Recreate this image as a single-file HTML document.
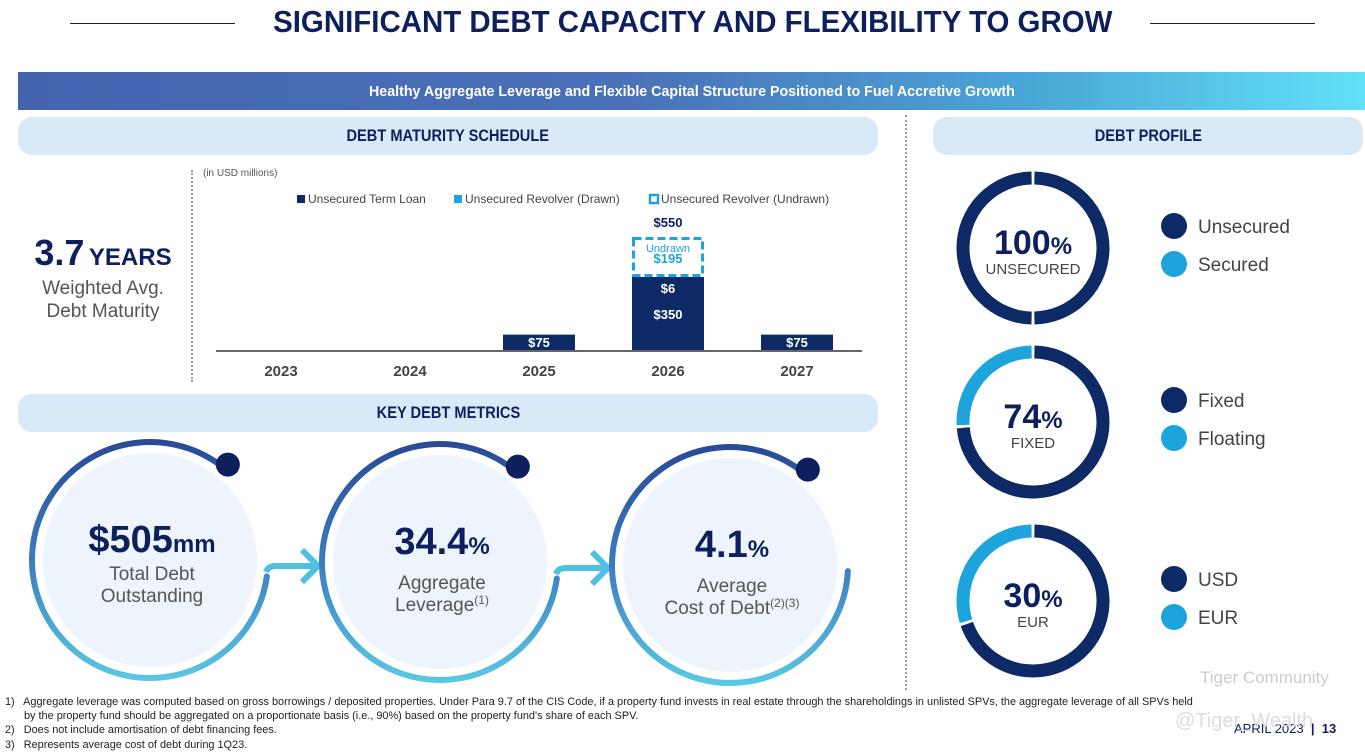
<!DOCTYPE html>
<html><head><meta charset="utf-8"><style>
body{margin:0;width:1365px;height:753px;background:#fff;position:relative;overflow:hidden;font-family:"Liberation Sans",sans-serif;}
.abs{position:absolute;}
.pill{position:absolute;background:#d8e9f7;border-radius:14px;color:#0d1f5c;font-weight:bold;font-size:17px;text-align:center;}
.cond{display:inline-block;transform:scaleX(.86);transform-origin:center;white-space:nowrap;}
.fn{position:absolute;left:5px;font-size:10.9px;color:#222;white-space:nowrap;}
</style></head><body>
<div class="abs" style="left:70px;top:23px;width:165px;height:1px;background:#222"></div>
<div class="abs" style="left:1150px;top:23px;width:165px;height:1px;background:#222"></div>
<div class="abs" style="left:235px;width:915px;top:4px;text-align:center;font-size:31px;font-weight:bold;color:#0d1f5c"><span class="cond" style="transform:scaleX(.95)">SIGNIFICANT DEBT CAPACITY AND FLEXIBILITY TO GROW</span></div>
<div class="abs" style="left:18px;top:72px;width:1347px;height:38px;background:linear-gradient(90deg,#4464b0 0%,#4a70b8 45%,#4aa6d6 75%,#62e0f8 100%);color:#fff;font-weight:bold;font-size:15px;text-align:center;line-height:40px"><span class="cond" style="transform:scaleX(.95)">Healthy Aggregate Leverage and Flexible Capital Structure Positioned to Fuel Accretive Growth</span></div>
<div class="pill" style="left:18px;top:117px;width:860px;height:38px;line-height:38px"><span class="cond">DEBT MATURITY SCHEDULE</span></div>
<div class="pill" style="left:933px;top:117px;width:430px;height:38px;line-height:38px"><span class="cond">DEBT PROFILE</span></div>
<div class="pill" style="left:18px;top:394px;width:860px;height:38px;line-height:38px"><span class="cond">KEY DEBT METRICS</span></div>
<div class="abs" style="left:905px;top:115px;height:575px;border-left:2px dotted #999"></div>
<div class="abs" style="left:191px;top:170px;height:212px;border-left:2px dotted #999"></div>

<div class="abs" style="left:0;width:206px;top:232px;text-align:center;color:#0d1f5c;font-weight:bold"><span style="font-size:36px">3.7</span> <span style="font-size:24px">YEARS</span></div>
<div class="abs" style="left:0;width:206px;top:277px;text-align:center;color:#555;font-size:19px;line-height:23px">Weighted Avg.<br>Debt Maturity</div>

<svg class="abs" style="left:0;top:0" width="1365" height="753">
<defs>
<linearGradient id="rg" x1="0" y1="0" x2="0" y2="1"><stop offset="0" stop-color="#2a4a96"/><stop offset=".5" stop-color="#3b7cc0"/><stop offset="1" stop-color="#5ac8e2"/></linearGradient>
</defs>
<g id="chart"></g>
<g id="metrics"></g>
<g id="donuts"></g>
</svg>

<div class="fn" style="top:696px">1)&nbsp;&nbsp; Aggregate leverage was computed based on gross borrowings / deposited properties. Under Para 9.7 of the CIS Code, if a property fund invests in real estate through the shareholdings in unlisted SPVs, the aggregate leverage of all SPVs held</div>
<div class="fn" style="top:710px;left:24px">by the property fund should be aggregated on a proportionate basis (i.e., 90%) based on the property fund's share of each SPV.</div>
<div class="fn" style="top:724px">2)&nbsp;&nbsp; Does not include amortisation of debt financing fees.</div>
<div class="fn" style="top:739px">3)&nbsp;&nbsp; Represents average cost of debt during 1Q23.</div>
<div class="abs" style="left:1234px;top:721px;font-size:13px;color:#0d1f5c">APRIL 2023 &nbsp;<b>|&nbsp; 13</b></div>
<div class="abs" style="left:1200px;top:668px;font-size:17px;color:#ccc">Tiger Community</div>
<div class="abs" style="left:1175px;top:710px;font-size:20px;color:#ddd">@Tiger_Wealth</div>

<script>
const NS="http://www.w3.org/2000/svg";
function mk(tag,attrs,parent,txt){const e=document.createElementNS(NS,tag);for(const k in attrs)e.setAttribute(k,attrs[k]);if(txt!==undefined)e.textContent=txt;parent.appendChild(e);return e;}

// ---- Debt maturity chart data ----
const years=["2023","2024","2025","2026","2027"];
const termLoan=[0,0,75,350,75];
const revolverDrawn=[0,0,0,6,0];
const revolverUndrawn=[0,0,0,195,0];
const totalLabels=["","","","$550",""];

const chart=document.getElementById('chart');
const baseY=350, pxPer=0.205, x0=281, step=129, bw=72;
const xPos=i=>x0+i*step;
const yPos=v=>baseY-v*pxPer;

let lg=mk('rect',{x:297,y:195,width:8,height:8,fill:'#0d2a66'},chart);


mk('text',{x:308,y:203,'font-size':12,fill:'#444'},chart,'Unsecured Term Loan');
lg=mk('rect',{x:454,y:195,width:8,height:8,fill:'#1ea4dc'},chart);


mk('text',{x:465,y:203,'font-size':12,fill:'#444'},chart,'Unsecured Revolver (Drawn)');
lg=mk('rect',{x:650,y:195,width:8,height:8,fill:'none',stroke:'#1ea4dc','stroke-width':2.5},chart);


mk('text',{x:661,y:203,'font-size':12,fill:'#444'},chart,'Unsecured Revolver (Undrawn)');
mk('text',{x:203,y:176,'font-size':10,fill:'#555'},chart,'(in USD millions)');

years.forEach((yr,i)=>{
  const cx=xPos(i);
  const stack=termLoan[i]+revolverDrawn[i];
  if(stack>0){
    const r=mk('rect',{x:cx-bw/2,y:yPos(stack),width:bw,height:stack*pxPer,fill:'#0d2a66'},chart);
    
    
    if(revolverDrawn[i]>0){
      mk('text',{x:cx,y:yPos(stack)+16,'text-anchor':'middle','font-size':13,'font-weight':'bold',fill:'#fff'},chart,'$'+revolverDrawn[i]);
      mk('text',{x:cx,y:yPos(termLoan[i]/2)+5,'text-anchor':'middle','font-size':13,'font-weight':'bold',fill:'#fff'},chart,'$'+termLoan[i]);
    } else {
      mk('text',{x:cx,y:baseY-3,'text-anchor':'middle','font-size':13,'font-weight':'bold',fill:'#fff'},chart,'$'+termLoan[i]);
    }
  }
  if(revolverUndrawn[i]>0){
    const top=yPos(stack+revolverUndrawn[i]);
    const u=mk('rect',{x:cx-bw/2+1.5,y:top+1.5,width:bw-3,height:revolverUndrawn[i]*pxPer-3,fill:'#fff',stroke:'#1ea4dc','stroke-width':3,'stroke-dasharray':'8,4'},chart);
    
    
    mk('text',{x:cx,y:top+15,'text-anchor':'middle','font-size':11,fill:'#1ea4dc'},chart,'Undrawn');
    mk('text',{x:cx,y:top+26,'text-anchor':'middle','font-size':13,'font-weight':'bold',fill:'#1ea4dc'},chart,'$'+revolverUndrawn[i]);
    mk('text',{x:cx,y:top-10,'text-anchor':'middle','font-size':13,'font-weight':'bold',fill:'#0d1f5c'},chart,totalLabels[i]);
  }
  const t=mk('text',{x:cx,y:376,'text-anchor':'middle','font-size':15,'font-weight':'bold',fill:'#444'},chart,yr);
  
  
});
const ax=mk('line',{x1:216,y1:baseY+1,x2:862,y2:baseY+1,stroke:'#666','stroke-width':2},chart);



// ---- metric circles ----
const metricVals=["$505","34.4","4.1"];
const metricUnits=["mm","%","%"];
const metricL1=["Total Debt","Aggregate","Average"];
const metricL2=["Outstanding","Leverage","Cost of Debt"];
const metricSup=["","(1)","(2)(3)"];
const mg=document.getElementById('metrics');
const centers=[[150,560],[440,562],[730,565]];
centers.forEach((c,i)=>{
  const [cx,cy]=c, R=118;
  mk('circle',{cx:cx,cy:cy,r:107,fill:'#eef4fb'},mg);
  const a1=-50*Math.PI/180, a2=(i<2?8:3)*Math.PI/180;
  const sx=cx+R*Math.cos(a1), sy=cy+R*Math.sin(a1), ex=cx+R*Math.cos(a2), ey=cy+R*Math.sin(a2);
  const ring=mk('path',{d:`M${sx},${sy} A${R},${R} 0 1 0 ${ex},${ey}`,fill:'none',stroke:'url(#rg)','stroke-width':6,'stroke-linecap':'round'},mg);
  
  
  if(i<2){
    mk('path',{d:`M${cx+R-2},${cy+12} Q${cx+R},${cy+6} ${cx+R+8},${cy+6} L${cx+R+48},${cy+6}`,fill:'none',stroke:'#4fc0df','stroke-width':6},mg);
    mk('path',{d:`M${cx+R+34},${cy-10} L${cx+R+50},${cy+6} L${cx+R+34},${cy+22}`,fill:'none',stroke:'#4fc0df','stroke-width':6},mg);
  }
  const d=mk('circle',{cx:sx+2,cy:sy-5,r:12,fill:'#0d1f5c'},mg);
  
  
  const tx=cx+2;
  const v=mk('text',{x:tx,y:cy-8,'text-anchor':'middle','font-weight':'bold',fill:'#0d1f5c'},mg);
  
  
  mk('tspan',{'font-size':38},v,metricVals[i]);
  mk('tspan',{'font-size':24},v,metricUnits[i]);
  const l1=i===0?cy+20:cy+27;
  mk('text',{x:tx,y:l1,'text-anchor':'middle','font-size':19,fill:'#555'},mg,metricL1[i]);
  const l2=mk('text',{x:tx,y:l1+22,'text-anchor':'middle','font-size':19,fill:'#555'},mg);
  mk('tspan',{},l2,metricL2[i]);
  if(metricSup[i]) mk('tspan',{'font-size':12,dy:-7},l2,metricSup[i]);
});

// ---- donuts ----
const donutBig=["100","74","30"];
const donutSub=["UNSECURED","FIXED","EUR"];
const darkShare=[100,74,70];
const legendA=["Unsecured","Fixed","USD"];
const legendB=["Secured","Floating","EUR"];
const dg=document.getElementById('donuts');
const dcy=[248,422,601];
dcy.forEach((cy,i)=>{
  const cx=1033,R=70,w=13,gap=0.02;
  function arc(f0,f1,col,name){
    const a0=-Math.PI/2+2*Math.PI*f0+gap, a1=-Math.PI/2+2*Math.PI*f1-gap;
    const large=(a1-a0)>Math.PI?1:0;
    const p=mk('path',{d:`M${cx+R*Math.cos(a0)},${cy+R*Math.sin(a0)} A${R},${R} 0 ${large} 1 ${cx+R*Math.cos(a1)},${cy+R*Math.sin(a1)}`,fill:'none',stroke:col,'stroke-width':w},dg);
    
    
  }
  const f=darkShare[i]/100;
  if(f>=1){arc(0,0.5,'#0d2a66','donut-'+(i+1)+'-dark-a');arc(0.5,1,'#0d2a66','donut-'+(i+1)+'-dark-b');}
  else {arc(0,f,'#0d2a66','donut-'+(i+1)+'-dark');arc(f,1,'#1ea4dc','donut-'+(i+1)+'-light');}
  const t=mk('text',{x:cx,y:cy+6,'text-anchor':'middle','font-weight':'bold',fill:'#0d1f5c'},dg);
  mk('tspan',{'font-size':34},t,donutBig[i]);
  mk('tspan',{'font-size':24},t,'%');
  mk('text',{x:cx,y:cy+26,'text-anchor':'middle','font-size':15,fill:'#444'},dg,donutSub[i]);
  const ly=cy-22;
  mk('circle',{cx:1174,cy:ly,r:13,fill:'#0d2a66'},dg);
  mk('text',{x:1198,y:ly+7,'font-size':19,fill:'#444'},dg,legendA[i]);
  mk('circle',{cx:1174,cy:ly+38,r:13,fill:'#1ea4dc'},dg);
  mk('text',{x:1198,y:ly+45,'font-size':19,fill:'#444'},dg,legendB[i]);
});
</script>
</body></html>
